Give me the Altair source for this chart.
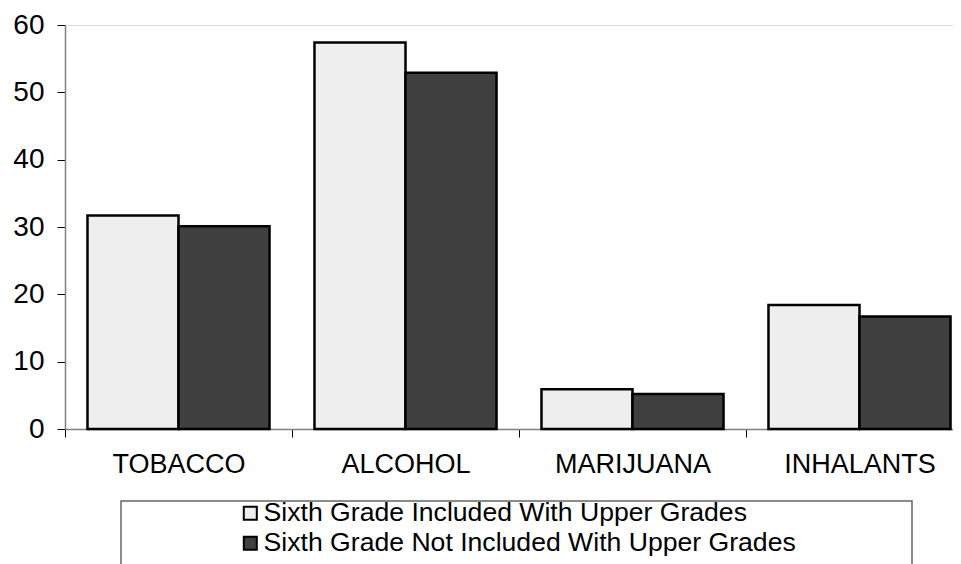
import altair as alt
import pandas as pd

categories = ["TOBACCO", "ALCOHOL", "MARIJUANA", "INHALANTS"]
series = ["Sixth Grade Included With Upper Grades", "Sixth Grade Not Included With Upper Grades"]
included = [31.7, 57.4, 5.9, 18.4]
not_included = [30.1, 52.9, 5.2, 16.7]
y_ticks = [0, 10, 20, 30, 40, 50, 60]

rows = []
for c, a, b in zip(categories, included, not_included):
    rows.append({"cat": c, "series": series[0], "value": a})
    rows.append({"cat": c, "series": series[1], "value": b})
df = pd.DataFrame(rows)

FONT = "Liberation Sans"

bars = alt.Chart(df).mark_bar(stroke="black", strokeWidth=2.5).encode(
    x=alt.X("cat:N", sort=categories,
            scale=alt.Scale(range=[0, 908], paddingInner=0, paddingOuter=0),
            axis=alt.Axis(title=None, labelAngle=0, labelFontSize=27, labelFont=FONT,
                          labelColor="black", labelPadding=14, tickBand="extent",
                          tickSize=8, tickColor="black", domainColor="#808080",
                          domainWidth=1.5, grid=False)),
    xOffset=alt.XOffset("series:N", sort=series,
                        scale=alt.Scale(paddingInner=0, paddingOuter=0.247)),
    y=alt.Y("value:Q", scale=alt.Scale(domain=[0, 60], nice=False),
            axis=alt.Axis(title=None, values=y_ticks, labelFontSize=28, labelFont=FONT,
                          labelColor="black", labelPadding=13, tickSize=8,
                          tickColor="black", domainColor="#808080", domainWidth=1.5,
                          grid=False)),
    color=alt.Color("series:N", sort=series,
                    scale=alt.Scale(domain=series, range=["#eeeeee", "#404040"]),
                    legend=alt.Legend(title=None, orient="none", legendX=172, legendY=475,
                                      symbolType="square", symbolSize=169,
                                      symbolStrokeColor="black", symbolStrokeWidth=2,
                                      labelFontSize=26.6, labelFont=FONT, labelColor="black",
                                      labelOffset=0, rowPadding=3, labelLimit=800)),
)

box = alt.Chart(pd.DataFrame({"d": [0]})).mark_rect(
    fill=None, stroke="#666666", strokeWidth=1.5
).encode(
    x=alt.value(56), x2=alt.value(847), y=alt.value(476), y2=alt.value(700)
)

chart = alt.layer(box, bars).properties(
    width=888, height=404,
    autosize=alt.AutoSizeParams(type="none"),
    padding={"left": 57, "top": 17, "right": 0, "bottom": 135},
).configure_view(stroke=None).configure(background="white")

chart.save("out.html", embed_options={"renderer": "svg", "actions": False})
